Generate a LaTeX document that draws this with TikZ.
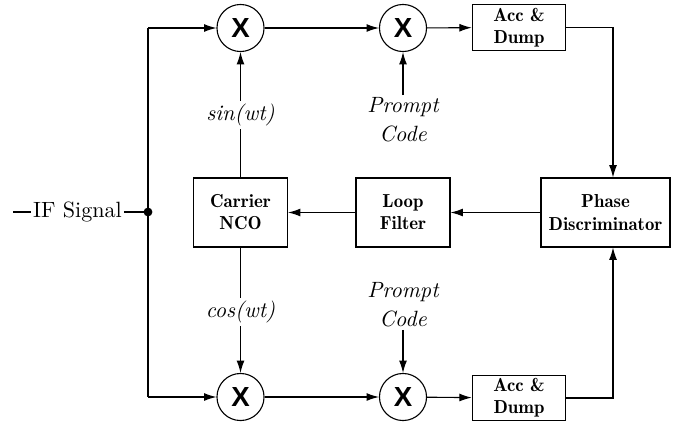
\documentclass[tikz,border=0pt]{standalone}
\usepackage{fontspec}
\newfontfamily\mixfont{Liberation Sans}
\newfontfamily\boxfont{lmromandemi10-regular}[Extension=.otf]
\newfontfamily\labelfont{lmroman10-italic}[Extension=.otf]
\usetikzlibrary{arrows.meta}
\begin{document}
\begin{tikzpicture}[x=0.4525pt, y=-0.4525pt,
  line width=0.5pt,
  arr/.style={-{Latex[length=5.6pt,width=3.6pt]}},
  mixer/.style={draw, circle, minimum size=21.3pt, inner sep=0pt,
    font=\mixfont\bfseries\fontsize{12.5}{12.5}\selectfont},
  block/.style={draw, rectangle, align=center, inner sep=0pt,
    font=\boxfont\fontsize{8.5}{10}\selectfont},
  smallblock/.style={block, minimum width=42.3pt, minimum height=20.6pt},
  bigblock/.style={block, minimum height=31.2pt},
  lbl/.style={inner sep=1pt, align=center, font=\labelfont\fontsize{10}{13}\selectfont}]
\useasboundingbox (0,0) rectangle (673,421);

% mixers
\node[mixer] (m1) at (240.5,28) {X};
\node[mixer] (m2) at (403,28) {X};
\node[mixer] (m3) at (240.5,397) {X};
\node[mixer] (m4) at (403,397) {X};

% blocks
\node[smallblock] (acc1) at (519,27.5) {Acc \&\\Dump};
\node[smallblock] (acc2) at (519,398) {Acc \&\\Dump};
\node[bigblock, minimum width=58.4pt] (pd) at (605.5,212.5) {Phase\\Discriminator};
\node[bigblock, minimum width=42.5pt] (lf) at (403,212.5) {Loop\\Filter};
\node[bigblock, minimum width=42.5pt] (nco) at (240.5,212.5) {Carrier\\NCO};

% signal labels
\node[lbl] (sin) at (240.5,115) {sin(wt)};
\node[lbl] (cos) at (240.5,312) {cos(wt)};
\node[lbl] (pc1) at (403,120) {Prompt\\Code};
\node[lbl] (pc2) at (403,305) {Prompt\\Code};

% input
\coordinate (in) at (13,212);
\node[inner xsep=0.7pt, inner ysep=2pt] (if) at (77.5,212) {IF Signal};
\coordinate (split) at (148,212);
\fill (split) circle (2pt);
\draw (in) -- (if) -- (split);
\coordinate (top) at (148,28);
\coordinate (bot) at (148,397);
\draw[arr] (top) -- (m1);
\draw (top) -- (bot);
\draw[arr] (bot) -- (m3);

% in-phase / quadrature paths
\draw[arr] (m1) -- (m2);
\draw[arr] (m2) -- (acc1);
\draw[arr] (m3) -- (m4);
\draw[arr] (m4) -- (acc2);
\coordinate (r1) at (613,27.5);
\coordinate (r2) at (613,398);
\draw[arr] (acc1.east) -- (r1) -- (r1 |- pd.north);
\draw[arr] (acc2.east) -- (r2) -- (r2 |- pd.south);

% feedback loop
\draw[arr] (pd) -- (lf);
\draw[arr] (lf) -- (nco);
\draw (nco) -- (sin);
\draw[arr] (sin) -- (m1);
\draw (nco) -- (cos);
\draw[arr] (cos) -- (m3);
\draw[arr] (pc1) -- (m2);
\draw[arr] (pc2) -- (m4);
\end{tikzpicture}
\end{document}
